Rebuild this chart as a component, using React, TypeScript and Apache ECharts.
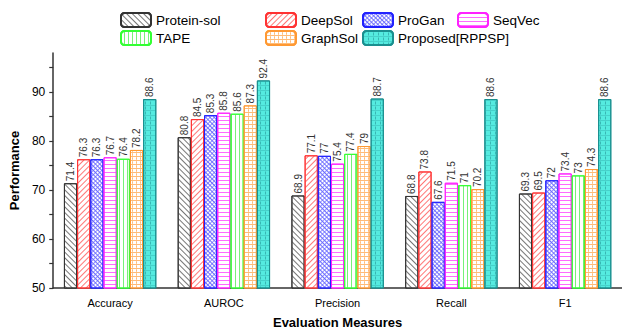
import React, { useEffect, useRef } from "react";
import * as echarts from "echarts";

const categories = ["Accuracy", "AUROC", "Precision", "Recall", "F1"];
const seriesNames = ["Protein-sol", "DeepSol", "ProGan", "SeqVec", "TAPE", "GraphSol", "Proposed[RPPSP]"];
const proteinSol = [71.4, 80.8, 68.9, 68.8, 69.3];
const deepSol = [76.3, 84.5, 77.1, 73.8, 69.5];
const proGan = [76.3, 85.3, 77, 67.6, 72];
const seqVec = [76.7, 85.8, 75.4, 71.5, 73.4];
const tape = [76.4, 85.6, 77.4, 71, 73];
const graphSol = [78.2, 87.3, 79, 70.2, 74.3];
const proposed = [88.6, 92.4, 88.7, 88.6, 88.6];
const yTicks = [50, 55, 60, 65, 70, 75, 80, 85, 90, 95];
const yLabels = [50, 60, 70, 80, 90];

const FONT = "'Liberation Sans', Arial, sans-serif";

const lines = (color: string, rotation: number, gap = 3, size = 0.8) => ({
  symbol: "rect",
  symbolSize: size,
  color,
  dashArrayX: [1, 0],
  dashArrayY: [1, gap],
  rotation,
});
const grid = (color: string, gap = 3, size = 1) => ({
  symbol: "rect",
  symbolSize: size,
  color,
  dashArrayX: [[1, 0], [1, gap]],
  dashArrayY: [1, 0, gap, 0],
  rotation: 0,
});

const styles = [
  { fill: "#ffffff", border: "#333333", decal: lines("#555555", Math.PI / 4, 2.5) },
  { fill: "#ffffff", border: "#ff3333", decal: lines("#ff5555", -Math.PI / 4, 2.5) },
  { fill: "#ffffff", border: "#2222ff", decal: { ...grid("#4646ff", 2, 0.8), rotation: Math.PI / 4 } },
  { fill: "#ffffff", border: "#ff22ff", decal: lines("#ff44ff", 0, 2.5) },
  { fill: "#ffffff", border: "#33ff33", decal: lines("#55ee55", Math.PI / 2, 2.5) },
  { fill: "#ffffff", border: "#ff9933", decal: grid("#ffaa55", 3, 0.8) },
  { fill: "#55ebe0", border: "#1a8f8f", decal: grid("#2a9f9f", 3.5, 0.7) },
];

export default function App() {
  const ref = useRef<HTMLDivElement>(null);
  useEffect(() => {
    if (!ref.current) return;
    const chart = echarts.init(ref.current, null, { renderer: "svg" });
    const data = [proteinSol, deepSol, proGan, seqVec, tape, graphSol, proposed];
    const legendCommon = {
      orient: "vertical",
      top: 12,
      itemWidth: 30,
      itemHeight: 14,
      itemGap: 2,
      textStyle: { fontFamily: FONT, fontSize: 13.5, color: "#000" },
      padding: 0,
    };
    chart.setOption({
      animation: false,
      legend: [
        { ...legendCommon, left: 120, data: [seriesNames[0], seriesNames[4]] },
        { ...legendCommon, left: 265, data: [seriesNames[1], seriesNames[5]] },
        { ...legendCommon, left: 362, data: [seriesNames[2], seriesNames[6]] },
        { ...legendCommon, left: 457, data: [seriesNames[3]] },
      ],
      grid: { left: 51, right: -9, top: 53, bottom: 41, containLabel: false },
      xAxis: {
        type: "category",
        data: categories,
        name: "Evaluation Measures",
        nameLocation: "middle",
        nameGap: 28,
        nameTextStyle: { fontFamily: FONT, fontSize: 13, fontWeight: "bold", color: "#000" },
        axisLine: { lineStyle: { color: "#333", width: 1.5 } },
        axisTick: { alignWithLabel: true, length: 4, lineStyle: { color: "#333", width: 1.5 } },
        axisLabel: { fontFamily: FONT, fontSize: 11, color: "#000", margin: 9 },
      },
      yAxis: {
        type: "value",
        min: 50,
        max: 98,
        interval: 5,
        name: "Performance",
        nameLocation: "middle",
        nameGap: 28,
        nameTextStyle: { fontFamily: FONT, fontSize: 13, fontWeight: "bold", color: "#000" },
        axisLine: { show: true, lineStyle: { color: "#333", width: 1.5 } },
        axisTick: { show: true, length: 4, customValues: yTicks, lineStyle: { color: "#333", width: 1.2 } },
        axisLabel: { fontFamily: FONT, fontSize: 12, color: "#000", margin: 8, customValues: yLabels },
        splitLine: { show: false },
      },
      series: seriesNames.map((name, i) => ({
        name,
        type: "bar",
        data: data[i],
        barWidth: 13.2,
        barGap: "0%",
        itemStyle: {
          color: styles[i].fill,
          borderColor: styles[i].border,
          borderWidth: 1,
          decal: styles[i].decal,
        },
        label: {
          show: true,
          position: "top",
          rotate: 90,
          align: "left",
          verticalAlign: "middle",
          distance: 2,
          fontFamily: FONT,
          fontSize: 10,
          color: "#333",
        },
      })),
    });
    return () => chart.dispose();
  }, []);
  return <div ref={ref} style={{ width: 622, height: 334, position: "absolute", left: 0, top: 0 }} />;
}
